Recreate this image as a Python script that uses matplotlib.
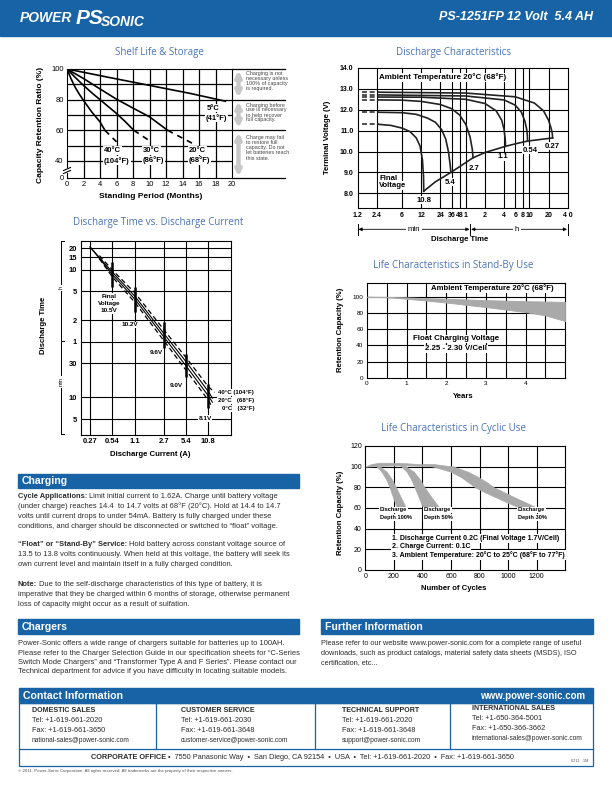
import matplotlib
matplotlib.use("Agg")
import matplotlib.pyplot as plt
from matplotlib.patches import Rectangle

plt.rcParams['font.family'] = ['Liberation Sans', 'DejaVu Sans']

W, H = 612, 792
BLUE = '#1763a6'
TBLUE = '#4a73b8'
GREY = '#a9a9a9'
TXT = '#2b2b2b'

# ---------------- data ----------------
# Shelf Life & Storage: months vs capacity retention (%)
sh_m_5 = [0, 5, 10, 15, 19.2]
sh_c_5 = [100, 94.6, 89.3, 84, 79]
sh_m_20 = [0, 2, 4, 6, 8, 10, 12.2]
sh_c_20 = [100, 93.8, 87, 80.3, 74.5, 68.8, 60]
sh_m_20d = [12.2, 15.2]
sh_c_20d = [60, 51.5]
sh_m_30 = [0, 1, 2, 3, 4, 5, 6, 7, 8.1]
sh_c_30 = [100, 94.5, 89.3, 84.5, 80, 75.5, 71, 66, 60]
sh_m_30d = [8.1, 10.2]
sh_c_30d = [60, 52.5]
sh_m_40 = [0, 0.5, 1, 1.5, 2, 3, 4, 4.6]
sh_c_40 = [100, 93.5, 88, 83.5, 79.5, 72, 65.5, 60]
sh_m_40d = [4.6, 6.0]
sh_c_40d = [60, 52.5]

# Discharge Characteristics: time (min) vs terminal voltage (V)
dc_ticks = [1.2, 2.4, 6, 12, 24, 36, 48, 60, 120, 240, 360, 480, 600, 1200, 2400]
dc_tick_lbl = ['1.2', '2.4', '6', '12', '24', '36', '48', '1', '2', '4', '6', '8', '10', '20', '4 0']
dc_amps = ['10.8', '5.4', '2.7', '1.1', '0.54', '0.27']
dc_t_108 = [2.6, 4, 6, 8, 10, 11.5, 12.5, 13.0, 13.1]
dc_v_108 = [11.3, 11.25, 11.12, 10.95, 10.65, 10.25, 9.6, 8.8, 8.1]
dc_t_54 = [2.6, 6, 10, 15, 20, 25, 29, 32, 34, 35]
dc_v_54 = [11.88, 11.86, 11.78, 11.6, 11.4, 11.05, 10.6, 10.0, 9.4, 9.0]
dc_t_27 = [2.6, 6, 12, 24, 36, 48, 60, 70, 76, 78]
dc_v_27 = [12.47, 12.46, 12.4, 12.25, 12.05, 11.75, 11.3, 10.7, 10.1, 9.7]
dc_t_11 = [2.6, 12, 60, 120, 180, 220, 240, 250, 253]
dc_v_11 = [12.61, 12.6, 12.5, 12.3, 11.95, 11.5, 11.05, 10.6, 10.25]
dc_t_054 = [2.6, 60, 240, 360, 450, 510, 545, 558, 562]
dc_v_054 = [12.71, 12.66, 12.47, 12.22, 11.88, 11.45, 11.05, 10.75, 10.5]
dc_t_027 = [2.6, 60, 360, 720, 1000, 1200, 1320, 1375, 1389]
dc_v_027 = [12.84, 12.8, 12.62, 12.32, 11.95, 11.5, 11.1, 10.85, 10.65]
dc_final_t = [13.1, 20, 35, 78, 120, 253, 400, 562, 1389]
dc_final_v = [8.1, 8.55, 9.0, 9.7, 9.95, 10.25, 10.4, 10.5, 10.65]

# Discharge Time vs. Discharge Current: current (A) vs time (min)
dtc_amps = [0.27, 0.54, 1.1, 2.7, 5.4, 10.8]
dtc_ticks = [5, 10, 30, 60, 120, 300, 600, 900, 1200]
dtc_tick_lbl = ['5', '10', '30', '1', '2', '5', '10', '15', '20']
dtc_i_s = [0.27, 0.54, 1.1, 2.7, 5.4, 10.8, 12.3]
dtc_t_sa = [1250, 560, 255, 78, 31.5, 12.2, 9.8]
dtc_t_sb = [1250, 520, 232, 70, 27.5, 10.6, 8.6]
dtc_i_40 = [0.36, 0.54, 1.1, 2.7, 5.4, 10.8, 13.2]
dtc_t_40 = [950, 600, 285, 88, 36, 14.2, 11.8]
dtc_i_0 = [0.36, 0.54, 1.1, 2.7, 5.4, 10.8, 12.0]
dtc_t_0 = [860, 480, 210, 62, 24, 9.2, 7.6]
dtc_mark_i = [0.54, 1.1, 2.7, 5.4, 10.8]
dtc_mark_lo = [351, 157, 49, 19, 7.2]
dtc_mark_hi = [781, 351, 113, 41, 15.6]

# Life Characteristics in Stand-By Use
sb_years = [0, 0.5, 1, 1.5, 2, 2.5, 3, 3.5, 4, 4.5, 5]
sb_upper = [100, 99.8, 99.2, 98.3, 97.5, 96.7, 95.8, 95.2, 94.6, 94.1, 93.7]
sb_lower = [100, 99.3, 97.5, 95.2, 92.8, 90, 87.2, 84.2, 81, 77, 70]

# Life Characteristics in Cyclic Use
cy_hump_x = [0, 40, 100, 200, 300, 400, 480]
cy_hump_top = [100, 102.5, 103.8, 103.8, 103.2, 102.2, 101]
cy_hump_bot = [100, 100.3, 100.8, 101.2, 101.2, 100.8, 100.3]
cy100_y = [101, 95, 88, 80, 70, 60]
cy100_xl = [75, 115, 145, 170, 195, 220]
cy100_xr = [95, 150, 185, 215, 250, 285]
cy50_y = [102, 95, 88, 80, 70, 60]
cy50_xl = [240, 290, 320, 345, 375, 405]
cy50_xr = [265, 340, 380, 415, 465, 520]
cy30_y = [102.5, 100, 95, 90, 85, 80, 75, 70, 65, 60]
cy30_xl = [400, 480, 600, 670, 720, 770, 840, 920, 1000, 1085]
cy30_xr = [480, 620, 720, 790, 850, 900, 975, 1050, 1130, 1205]

# ---------------- page ----------------
fig = plt.figure(figsize=(6.12, 7.92), dpi=100)
page = fig.add_axes([0, 0, 1, 1])
page.set_xlim(0, W)
page.set_ylim(H, 0)
page.axis('off')
r = fig.canvas.get_renderer()


def box(x0, y0, x1, y1):
    ax = fig.add_axes([x0 / W, 1 - y1 / H, (x1 - x0) / W, (y1 - y0) / H])
    ax.tick_params(length=0, colors='k', which='both')
    for s in ax.spines.values():
        s.set_linewidth(0.8)
    return ax


def pt(ax, x, y, s, size=5, weight='bold', ha='left', bg=False, **kw):
    bb = dict(fc='white', ec='none', pad=0.6) if bg else None
    return ax.text(x, y, s, transform=page.transData, fontsize=size, fontweight=weight,
                   ha=ha, va='center', bbox=bb, zorder=6, **kw)


def rich(x, y, bold, rest, size=5.4):
    t = page.text(x, y, bold, fontsize=size, fontweight='bold', color=TXT, va='center')
    w = t.get_window_extent(renderer=r).width
    page.text(x + w + size * 0.4, y, rest, fontsize=size, color=TXT, va='center')


def title(x, y, s):
    page.text(x, y, s, fontsize=7, color=TBLUE, ha='center', va='center', family='Open Sans')


# header
page.add_patch(Rectangle((0, 0), W, 35.5, color=BLUE))
page.text(20, 18, 'POWER', fontsize=10, fontweight='bold', style='italic', color='white', va='center')
page.text(76, 19, 'PS', fontsize=15, fontweight='bold', style='italic', color='white', va='center')
page.text(101, 21.5, 'SONIC', fontsize=10, fontweight='bold', style='italic', color='white', va='center')
page.text(593, 17.5, 'PS-1251FP 12 Volt  5.4 AH', fontsize=9, fontweight='bold', style='italic',
          color='white', ha='right', va='center')

# ---------------- Shelf Life & Storage ----------------
title(159, 53, 'Shelf Life & Storage')
ax1 = box(67, 69, 232, 178)
ax1.set_xlim(0, 20)
ax1.set_ylim(28.9, 100)
for m in range(2, 20, 2):
    ax1.axvline(m, color='k', lw=0.9, zorder=1)
for c in range(40, 100, 10):
    ax1.axhline(c, color='k', lw=0.9, zorder=1)
ax1.set_xticks(range(0, 21, 2))
ax1.set_yticks([28.9, 40, 60, 80, 100])
ax1.set_yticklabels(['0', '40', '60', '80', '100'])
ax1.tick_params(labelsize=5.4, pad=2.5)
dash = (0, (3.5, 3))
ax1.plot(sh_m_5, sh_c_5, color='k', lw=1.2, zorder=3)
ax1.plot(sh_m_20, sh_c_20, color='k', lw=1.2, zorder=3)
ax1.plot(sh_m_20d, sh_c_20d, color='k', lw=1.2, ls=dash, zorder=3)
ax1.plot(sh_m_30, sh_c_30, color='k', lw=1.2, zorder=3)
ax1.plot(sh_m_30d, sh_c_30d, color='k', lw=1.2, ls=dash, zorder=3)
ax1.plot(sh_m_40, sh_c_40, color='k', lw=1.2, zorder=3)
ax1.plot(sh_m_40d, sh_c_40d, color='k', lw=1.2, ls=dash, zorder=3)
for lvl in [100, 80, 60, 28.9]:
    ax1.plot([1, 1.321], [lvl, lvl], transform=ax1.get_yaxis_transform(), clip_on=False,
             color='k', lw=0.9)
pt(ax1, 207, 108, '5°C', 5.5, bg=True)
pt(ax1, 206, 117.7, '(41°F)', 5.5, bg=True)
pt(ax1, 104, 150.7, '40°C', 5.5, bg=True)
pt(ax1, 104, 160.7, '(104°F)', 5.5, bg=True)
pt(ax1, 143, 150.3, '30°C', 5.5, bg=True)
pt(ax1, 143, 160.3, '(86°F)', 5.5, bg=True)
pt(ax1, 189, 150.3, '20°C', 5.5, bg=True)
pt(ax1, 189, 160.3, '(68°F)', 5.5, bg=True)
# axis break
ax1.add_patch(Rectangle((63, 167.5), 8, 5, transform=page.transData, fc='white', ec='none',
                        clip_on=False, zorder=5))
ax1.plot([63.5, 70.5], [170.5, 167.5], transform=page.transData, clip_on=False, color='k', lw=0.8, zorder=6)
ax1.plot([63.5, 70.5], [173.5, 170.5], transform=page.transData, clip_on=False, color='k', lw=0.8, zorder=6)

arrow_kw = dict(arrowstyle='<|-|>', color='#c8c8c8', lw=3.2, mutation_scale=8, shrinkA=0, shrinkB=0)
page.annotate('', xy=(238.5, 70.5), xytext=(238.5, 97.5), arrowprops=arrow_kw)
page.annotate('', xy=(238.5, 101.5), xytext=(238.5, 128), arrowprops=arrow_kw)
page.annotate('', xy=(238.5, 132.5), xytext=(238.5, 176.5), arrowprops=arrow_kw)
note_kw = dict(fontsize=3.9, color='#444444', va='top', linespacing=1.0)
page.text(246.5, 71, 'Charging is not\nnecessary unless\n100% of capacity\nis required.', **note_kw)
page.text(246.5, 102.5, 'Charging before\nuse is necessary\nto help recover\nfull capacity.', **note_kw)
page.text(246.5, 135.5, 'Charge may fail\nto restore full\ncapacity. Do not\nlet batteries reach\nthis state.', **note_kw)
page.text(151, 196, 'Standing Period (Months)', fontsize=6, fontweight='bold', ha='center', va='center')
page.text(41, 125, 'Capacity Retention Ratio (%)', fontsize=6, fontweight='bold', ha='center',
          va='center', rotation=90)

# ---------------- Discharge Characteristics ----------------
title(453.5, 53, 'Discharge Characteristics')
ax2 = box(357.7, 68, 567.7, 208.3)
ax2.set_xscale('log')
ax2.set_xlim(1.2, 2400)
ax2.set_ylim(7.28, 14.0)
for t in dc_ticks[1:-1]:
    ax2.axvline(t, color='k', lw=0.8, zorder=1)
for v in range(8, 14):
    ax2.axhline(v, color='k', lw=0.8, zorder=1)
ax2.set_xticks(dc_ticks)
ax2.set_xticklabels(dc_tick_lbl)
ax2.xaxis.set_minor_locator(matplotlib.ticker.NullLocator())
ax2.set_yticks(range(8, 15))
ax2.set_yticklabels(['%.1f' % v for v in range(8, 15)])
ax2.tick_params(labelsize=5, pad=3)
for lb in ax2.get_xticklabels() + ax2.get_yticklabels():
    lb.set_fontweight('bold')
curves = [(dc_t_108, dc_v_108), (dc_t_54, dc_v_54), (dc_t_27, dc_v_27),
          (dc_t_11, dc_v_11), (dc_t_054, dc_v_054), (dc_t_027, dc_v_027)]
for ts, vs in curves:
    ax2.plot([1.4, ts[0]], [vs[0], vs[0]], color='#333333', lw=1.2, ls=(0, (3, 1.6)), zorder=3)
    ax2.plot(ts, vs, color='#222222', lw=1.2, zorder=3)
ax2.plot(dc_final_t, dc_final_v, color='#222222', lw=1.2, zorder=3)
lbl_xy = [(424, 200), (450, 182), (474, 168), (503, 157), (530, 150), (552, 146)]
for (x, y), a in zip(lbl_xy, dc_amps):
    pt(ax2, x, y, a, 5.6, ha='center', bg=True)
pt(ax2, 378.7, 77.3, 'Ambient Temperature 20°C (68°F)', 5.8, bg=True)
pt(ax2, 379, 178.3, 'Final', 5.6, bg=True)
pt(ax2, 379, 185.8, 'Voltage', 5.6, bg=True)
# min / h range arrows
ak = dict(arrowstyle='-|>', color='k', lw=0.6, mutation_scale=5, shrinkA=0, shrinkB=0)
page.annotate('', xy=(358.5, 229.3), xytext=(414, 229.3), arrowprops=ak)
page.annotate('', xy=(469.5, 229.3), xytext=(414, 229.3), arrowprops=ak)
page.annotate('', xy=(471.2, 229.3), xytext=(517, 229.3), arrowprops=ak)
page.annotate('', xy=(567, 229.3), xytext=(517, 229.3), arrowprops=ak)
for bx in [357.9, 470.3, 567.8]:
    page.plot([bx, bx], [224, 235], color='k', lw=0.7)
page.text(414, 229.3, 'min', fontsize=5.6, ha='center', va='center',
          bbox=dict(fc='white', ec='none', pad=1.2))
page.text(517, 229.3, 'h', fontsize=5.6, ha='center', va='center',
          bbox=dict(fc='white', ec='none', pad=1.2))
page.text(460, 239.3, 'Discharge Time', fontsize=5.6, fontweight='bold', ha='center', va='center')
page.text(327.7, 137, 'Terminal Voltage (V)', fontsize=5.6, fontweight='bold', ha='center',
          va='center', rotation=90)

# ---------------- Discharge Time vs. Discharge Current ----------------
title(157.8, 222.3, 'Discharge Time vs. Discharge Current')
ax3 = box(80.5, 240.7, 231, 435)
ax3.set_xscale('log')
ax3.set_yscale('log')
ax3.set_xlim(0.2, 22)
ax3.set_ylim(3.0, 1530)
for a in dtc_amps:
    ax3.axvline(a, color='k', lw=0.8, zorder=1)
for t in dtc_ticks:
    ax3.axhline(t, color='k', lw=0.8, zorder=1)
ax3.set_xticks(dtc_amps)
ax3.set_xticklabels(['0.27', '0.54', '1.1', '2.7', '5.4', '10.8'])
ax3.set_yticks(dtc_ticks)
ax3.set_yticklabels(dtc_tick_lbl)
ax3.xaxis.set_minor_locator(matplotlib.ticker.NullLocator())
ax3.yaxis.set_minor_locator(matplotlib.ticker.NullLocator())
ax3.tick_params(labelsize=5.4, pad=2.5)
for lb in ax3.get_xticklabels() + ax3.get_yticklabels():
    lb.set_fontweight('bold')
ax3.plot(dtc_i_s, dtc_t_sa, color='k', lw=0.8, zorder=3)
ax3.plot(dtc_i_s, dtc_t_sb, color='k', lw=0.8, zorder=3)
ax3.plot(dtc_i_40, dtc_t_40, color='k', lw=0.9, ls=(0, (4, 2.5)), zorder=3)
ax3.plot(dtc_i_0, dtc_t_0, color='k', lw=0.9, ls=(0, (4, 2.5)), zorder=3)
ax3.vlines(dtc_mark_i, dtc_mark_lo, dtc_mark_hi, color='k', lw=1.8, zorder=4)
pt(ax3, 109.3, 296, 'Final', 4.6, ha='center', bg=True)
pt(ax3, 109.3, 303.3, 'Voltage', 4.6, ha='center', bg=True)
pt(ax3, 109.3, 311, '10.5V', 4.6, ha='center', bg=True)
pt(ax3, 130, 325, '10.2V', 4.6, ha='center', bg=True)
pt(ax3, 156.7, 352.3, '9.6V', 4.6, ha='center', bg=True)
pt(ax3, 176.7, 385.7, '9.0V', 4.6, ha='center', bg=True)
pt(ax3, 205, 418.3, '8.1V', 4.6, ha='center', bg=True)
pt(ax3, 218, 392.7, '40°C (104°F)', 4.4, bg=True)
pt(ax3, 218, 400.3, '20°C   (68°F)', 4.4, bg=True)
pt(ax3, 221.7, 408.3, '0°C   (32°F)', 4.4, bg=True)
page.plot([61, 61], [240.7, 434.3], color='k', lw=0.7)
for yb in [240.7, 340.7, 434.3]:
    page.plot([61, 64], [yb, yb], color='k', lw=0.7)
page.text(61, 287.7, 'h', fontsize=4, rotation=90, ha='center', va='center',
          bbox=dict(fc='white', ec='none', pad=1))
page.text(61, 381.7, 'min', fontsize=4, rotation=90, ha='center', va='center',
          bbox=dict(fc='white', ec='none', pad=1))
page.text(43.5, 325, 'Discharge Time', fontsize=5.6, fontweight='bold', ha='center', va='center', rotation=90)
page.text(150, 454, 'Discharge Current (A)', fontsize=5.6, fontweight='bold', ha='center', va='center')

# ---------------- Stand-By Use ----------------
title(453, 265.7, 'Life Characteristics in Stand-By Use')
ax4 = box(367, 283.3, 565.3, 378)
ax4.set_xlim(0, 5)
ax4.set_ylim(0, 116.5)
for i in range(1, 10):
    ax4.axvline(i * 0.5, color='k', lw=0.8, zorder=1)
for c in range(20, 120, 20):
    ax4.axhline(c, color='k', lw=0.8, zorder=1)
ax4.set_xticks(range(0, 5))
ax4.set_yticks(range(0, 120, 20))
ax4.tick_params(labelsize=4.6, pad=2.5)
ax4.fill_between(sb_years, sb_lower, sb_upper, color=GREY, lw=0.6, ec=GREY, zorder=3)
pt(ax4, 431, 288.3, 'Ambient Temperature 20°C (68°F)', 5.6, bg=True)
pt(ax4, 456, 339, 'Float Charging Voltage', 5.7, ha='center', bg=True)
pt(ax4, 456, 349, '2.25 - 2.30 V/Cell', 5.7, ha='center', bg=True)
page.text(463.7, 396.7, 'Years', fontsize=5.6, fontweight='bold', ha='center', va='center')
page.text(341, 330, 'Retention Capacity (%)', fontsize=5.6, fontweight='bold', ha='center',
          va='center', rotation=90)

# ---------------- Cyclic Use ----------------
title(453.5, 428.3, 'Life Characteristics in Cyclic Use')
ax5 = box(365.3, 446, 565.3, 570)
ax5.set_xlim(0, 1400)
ax5.set_ylim(0, 120)
for c in range(200, 1400, 200):
    ax5.axvline(c, color='k', lw=0.8, zorder=1)
for c in range(20, 120, 20):
    ax5.axhline(c, color='k', lw=0.8, zorder=1)
ax5.set_xticks(range(0, 1201, 200))
ax5.set_yticks(range(0, 121, 20))
ax5.tick_params(labelsize=5, pad=2.5)
ax5.fill_between(cy_hump_x, cy_hump_bot, cy_hump_top, color=GREY, lw=0.5, ec=GREY, zorder=3)
ax5.fill_betweenx(cy100_y, cy100_xl, cy100_xr, color=GREY, lw=0.5, ec=GREY, zorder=3)
ax5.fill_betweenx(cy50_y, cy50_xl, cy50_xr, color=GREY, lw=0.5, ec=GREY, zorder=3)
ax5.fill_betweenx(cy30_y, cy30_xl, cy30_xr, color=GREY, lw=0.5, ec=GREY, zorder=3)
pt(ax5, 380, 510, 'Discharge', 4.1, bg=True)
pt(ax5, 380, 517.3, 'Depth 100%', 4.1, bg=True)
pt(ax5, 423.7, 510, 'Discharge', 4.1, bg=True)
pt(ax5, 423.7, 517.3, 'Depth 50%', 4.1, bg=True)
pt(ax5, 518, 510, 'Discharge', 4.1, bg=True)
pt(ax5, 517.5, 517.3, 'Depth 30%', 4.1, bg=True)
pt(ax5, 392, 538.3, '1. Discharge Current 0.2C (Final Voltage 1.7V/Cell)', 5, bg=True)
pt(ax5, 392, 546.7, '2. Charge Current: 0.1C', 5, bg=True)
pt(ax5, 392, 555, '3. Ambient Temperature: 20°C to 25°C (68°F to 77°F)', 5, bg=True)
page.text(454, 588, 'Number of Cycles', fontsize=5.6, fontweight='bold', ha='center', va='center')
page.text(340, 513, 'Retention Capacity (%)', fontsize=5.6, fontweight='bold', ha='center',
          va='center', rotation=90)


# ---------------- text sections ----------------
def bar(x0, y0, x1, y1, s, right=None):
    page.add_patch(Rectangle((x0, y0), x1 - x0, y1 - y0, color=BLUE))
    page.text(x0 + 4, (y0 + y1) / 2 + 0.3, s, fontsize=7.6, fontweight='bold', color='white', va='center')
    if right:
        page.text(x1 - 8, (y0 + y1) / 2 + 0.3, right, fontsize=7, fontweight='bold', color='white',
                  va='center', ha='right')


bar(18, 474, 299, 488, 'Charging')
body = dict(fontsize=5.4, color=TXT, va='center')
rich(18, 496.5, 'Cycle Applications:', 'Limit initial current to 1.62A. Charge until battery voltage')
page.text(18, 506.5, '(under charge) reaches 14.4  to 14.7 volts at 68°F (20°C). Hold at 14.4 to 14.7', **body)
page.text(18, 516.5, 'volts until current drops to under 54mA. Battery is fully charged under these', **body)
page.text(18, 526.5, 'conditions, and charger should be disconnected or switched to \u201cfloat\u201d voltage.', **body)
rich(18, 544.3, '\u201cFloat\u201d or \u201cStand-By\u201d Service:', 'Hold battery across constant voltage source of')
page.text(18, 554.3, '13.5 to 13.8 volts continuously. When held at this voltage, the battery will seek its', **body)
page.text(18, 564.3, 'own current level and maintain itself in a fully charged condition.', **body)
rich(18, 584.3, 'Note:', 'Due to the self-discharge characteristics of this type of battery, it is')
page.text(18, 594.3, 'imperative that they be charged within 6 months of storage, otherwise permanent', **body)
page.text(18, 604.3, 'loss of capacity might occur as a result of sulfation.', **body)

bar(18, 619, 299, 634, 'Chargers')
charger_lines = ['Power-Sonic offers a wide range of chargers suitable for batteries up to 100AH.',
                 'Please refer to the Charger Selection Guide in our specification sheets for \u201cC-Series',
                 'Switch Mode Chargers\u201d and \u201cTransformer Type A and F Series\u201d. Please contact our',
                 'Technical department for advice if you have difficulty in locating suitable models.']
for i, s in enumerate(charger_lines):
    page.text(18, 643.7 + i * 9.35, s, **body)

bar(321, 619, 593.3, 634, 'Further Information')
further_lines = ['Please refer to our website www.power-sonic.com for a complete range of useful',
                 'downloads, such as product catalogs, material safety data sheets (MSDS), ISO',
                 'certification, etc...']
for i, s in enumerate(further_lines):
    page.text(321, 643.7 + i * 9.35, s, fontsize=5.3, color=TXT, va='center')

# contact block
bar(18.7, 688, 593.3, 702.7, 'Contact Information', right='www.power-sonic.com')
page.add_patch(Rectangle((18.7, 702.7), 574.6, 63.3, fc='none', ec=BLUE, lw=0.9))
page.plot([18.7, 593.3], [749.3, 749.3], color=BLUE, lw=0.9)
for dx in [155.7, 315.3, 450.3]:
    page.plot([dx, dx], [702.7, 749.3], color=BLUE, lw=0.9)
contact_x = [31.7, 181, 341.7, 471.7]
contact_head = ['DOMESTIC SALES', 'CUSTOMER SERVICE', 'TECHNICAL SUPPORT', 'INTERNATIONAL SALES']
contact_tel = ['Tel: +1-619-661-2020', 'Tel: +1-619-661-2030', 'Tel: +1-619-661-2020', 'Tel: +1-650-364-5001']
contact_fax = ['Fax: +1-619-661-3650', 'Fax: +1-619-661-3648', 'Fax: +1-619-661-3648', 'Fax: +1-650-366-3662']
contact_mail = ['national-sales@power-sonic.com', 'customer-service@power-sonic.com',
                'support@power-sonic.com', 'international-sales@power-sonic.com']
for i, x in enumerate(contact_x):
    y0 = 709 if i == 3 else 710
    page.text(x, y0, contact_head[i], fontsize=5.1, fontweight='bold', color=TXT, va='center')
    page.text(x, y0 + 10, contact_tel[i], fontsize=5.35, color=TXT, va='center')
    page.text(x, y0 + 20, contact_fax[i], fontsize=5.35, color=TXT, va='center')
    page.text(x, y0 + 30, contact_mail[i], fontsize=4.75, color=TXT, va='center')
rich(91, 757.5, 'CORPORATE OFFICE',
     '\u2022  7550 Panasonic Way  \u2022  San Diego, CA 92154  \u2022  USA  \u2022  Tel: +1-619-661-2020  \u2022  Fax: +1-619-661-3650',
     size=5.3)
page.text(588, 761, '0211   1M', fontsize=2.8, color='#555555', ha='right', va='center')
page.text(18, 771.3, '\u00a9 2011. Power-Sonic Corporation. All rights reserved. All trademarks are the property of their respective owners.',
          fontsize=3.2, color='#555555', va='center')

fig.savefig('out.png', dpi=100)
